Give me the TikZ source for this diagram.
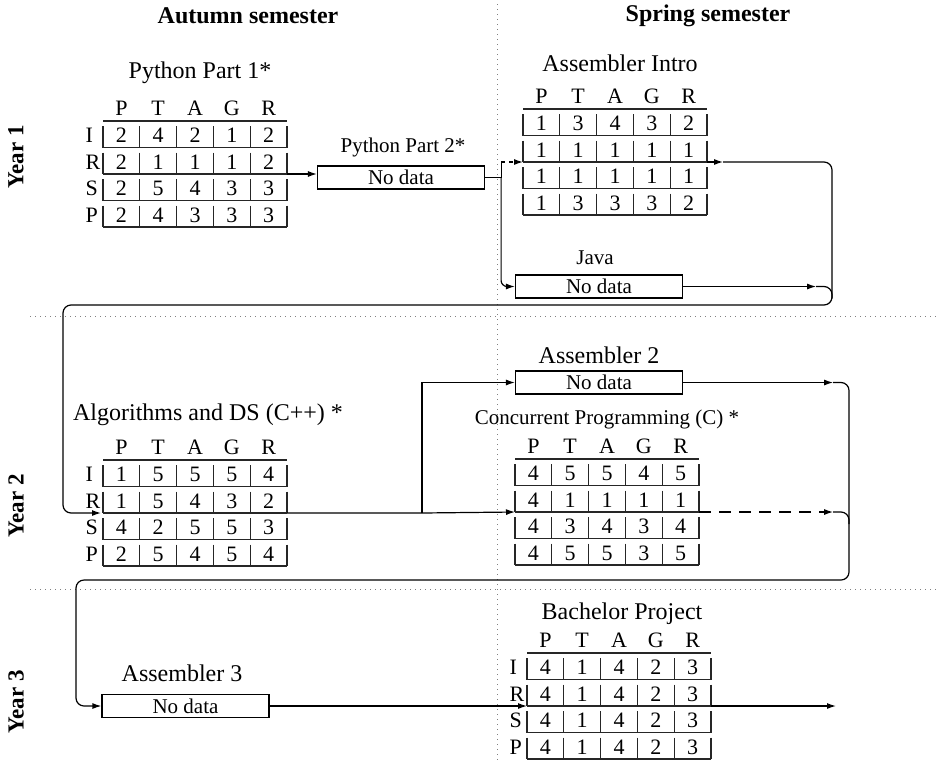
\documentclass[tikz,border=0pt]{standalone}
\usepackage{fontspec}
\setmainfont{Liberation Serif}
\usetikzlibrary{arrows.meta,positioning}

\tikzset{
  tabline/.style={line width=0.6pt,black!85},
  cell/.style={inner sep=0pt,font=\fontsize{11}{12}\selectfont},
  coursename/.style={inner sep=0pt,font=\fontsize{12}{14}\selectfont},
  smallname/.style={inner sep=0pt,font=\fontsize{10.5}{12}\selectfont},
  nodata/.style={draw,line width=0.6pt,minimum width=83.5pt,minimum height=11.5pt,inner sep=0pt,font=\fontsize{10.5}{12}\selectfont},
  divider/.style={dotted,gray,line width=0.5pt},
  semlab/.style={inner sep=0pt,font=\bfseries\fontsize{12}{14}\selectfont},
  yearlab/.style={inner sep=0pt,rotate=90,font=\bfseries\fontsize{11.5}{14}\selectfont},
}

\newcommand{\gradetable}[5]{%
  \begin{scope}[shift={(#2,#3)}]
    \coordinate (#1-in) at (0,53);
    \coordinate (#1-out) at (184,53);
    \draw[tabline] (0,0) -- (184,0);
    \foreach \hd [count=\ci] in {P,T,A,G,R}
      \node[cell] (#1-h\ci) at ({(\ci-0.5)*36.8},-13) {\hd};
    \if\relax\detokenize{#4}\relax\else
    \foreach \lb [count=\ri] in {#4}
      \node[cell,anchor=west] (#1-l\ri) at (-18,\ri*26.5-12) {\lb};
    \fi
    \foreach \pa/\pb/\pc/\pd/\pe [count=\ri] in {#5} {
      \draw[tabline] (0,\ri*26.5) -- (184,\ri*26.5);
      \foreach \ci in {0,...,5}
        \draw[tabline] (\ci*36.8,\ri*26.5-21.5) -- (\ci*36.8,\ri*26.5);
      \foreach \val [count=\ci] in {\pa,\pb,\pc,\pd,\pe}
        \node[cell] (#1-\ri-\ci) at ({(\ci-0.5)*36.8},\ri*26.5-12) {\val};
    }
  \end{scope}}

\begin{document}
\begin{tikzpicture}[x=0.5pt,y=-0.5pt,>={Latex[length=4.5pt,width=3pt]},line width=0.6pt]
\useasboundingbox (0,0) rectangle (940,760);
\draw[divider] (497,4) -- (497,760);
\draw[divider] (30,316) -- (940,316);
\draw[divider] (30,589) -- (940,589);
\node[semlab] (autumn) at (248,16) {Autumn semester};
\node[semlab] (spring) at (708,16) {Spring semester};
\node[yearlab] (year1) at (16,157) {Year 1};
\node[yearlab] (year2) at (16,506) {Year 2};
\node[yearlab] (year3) at (16,702) {Year 3};

\node[coursename] (py1-name) at (200,73) {Python Part 1*};
\gradetable{py1}{103}{121}{I,R,S,P}{2/4/2/1/2,2/1/1/1/2,2/5/4/3/3,2/4/3/3/3}
\node[smallname] (py2-name) at (403,147) {Python Part 2*};
\node[nodata] (py2) at (401,177.5) {No data};
\node[coursename] (asm1-name) at (620,63) {Assembler Intro};
\gradetable{asm1}{523}{109}{}{1/3/4/3/2,1/1/1/1/1,1/1/1/1/1,1/3/3/3/2}
\node[smallname] (java-name) at (595,258) {Java};
\node[nodata] (java) at (599,286.5) {No data};

\node[coursename] (alg-name) at (208,415) {Algorithms and DS (C++) *};
\gradetable{alg}{103}{460}{I,R,S,P}{1/5/5/5/4,1/5/4/3/2,4/2/5/5/3,2/5/4/5/4}
\node[coursename] (asm2-name) at (599,355) {Assembler 2};
\node[nodata] (asm2) at (599,382.5) {No data};
\node[smallname] (conc-name) at (607,419) {Concurrent Programming (C) *};
\gradetable{conc}{515}{459}{}{4/5/5/4/5,4/1/1/1/1,4/3/4/3/4,4/5/5/3/5}

\node[coursename] (asm3-name) at (182,673) {Assembler 3};
\node[nodata] (asm3) at (185.5,706) {No data};
\node[coursename] (bach-name) at (622,614) {Bachelor Project};
\gradetable{bach}{527}{653}{I,R,S,P}{4/1/4/2/3,4/1/4/2/3,4/1/4/2/3,4/1/4/2/3}

\coordinate (bus1r) at (832,305);
\coordinate (bus1l) at (63,305);
\coordinate (bus2r) at (849,580);
\coordinate (bus2l) at (76,580);

\draw[->] (py1-out) -- (py1-out -| py2.west);
\draw (py2.east) -- ++(16,0) coordinate (split1);
\draw[->,rounded corners=3pt] (split1) |- (java.west);
\draw (split1) -- (split1 |- asm1-in);
\draw[->,dash pattern=on 2pt off 2pt] (split1 |- asm1-in) -- (asm1-in);
\draw[->] (asm1-out) -- ++(16,0) coordinate (tip1);
\draw[->,rounded corners=4pt,shorten >=1pt] (tip1) -- (tip1 -| bus1r) -- (bus1r) -- (bus1l) -- (bus1l |- alg-in) -- (alg-in);
\draw[->] (java.east) -- ++(133,0) coordinate (tip2);
\draw[rounded corners=4pt] (tip2) -- (tip2 -| bus1r) -- ++(0,12);

\draw[->] (alg-out) -- ++(135,0) coordinate (split2) -- (conc-in);
\draw[->] (split2) |- (asm2.west);
\draw[->] (asm2.east) -- ++(150,0) coordinate (tip3);
\draw[->,rounded corners=4pt] (tip3) -- (tip3 -| bus2r) -- (bus2r) -- (bus2l) -- (bus2l |- asm3.west) -- (asm3.west);
\draw[->,dash pattern=on 6pt off 4pt] (conc-out) -- (conc-out -| tip3);
\draw[rounded corners=4pt] (conc-out -| tip3) -- (conc-out -| bus2r) -- ++(0,12);

\draw[->] (asm3.east) -- (bach-in);
\draw[->] (bach-out) -- ++(125,0) coordinate (end3);
\end{tikzpicture}
\end{document}
